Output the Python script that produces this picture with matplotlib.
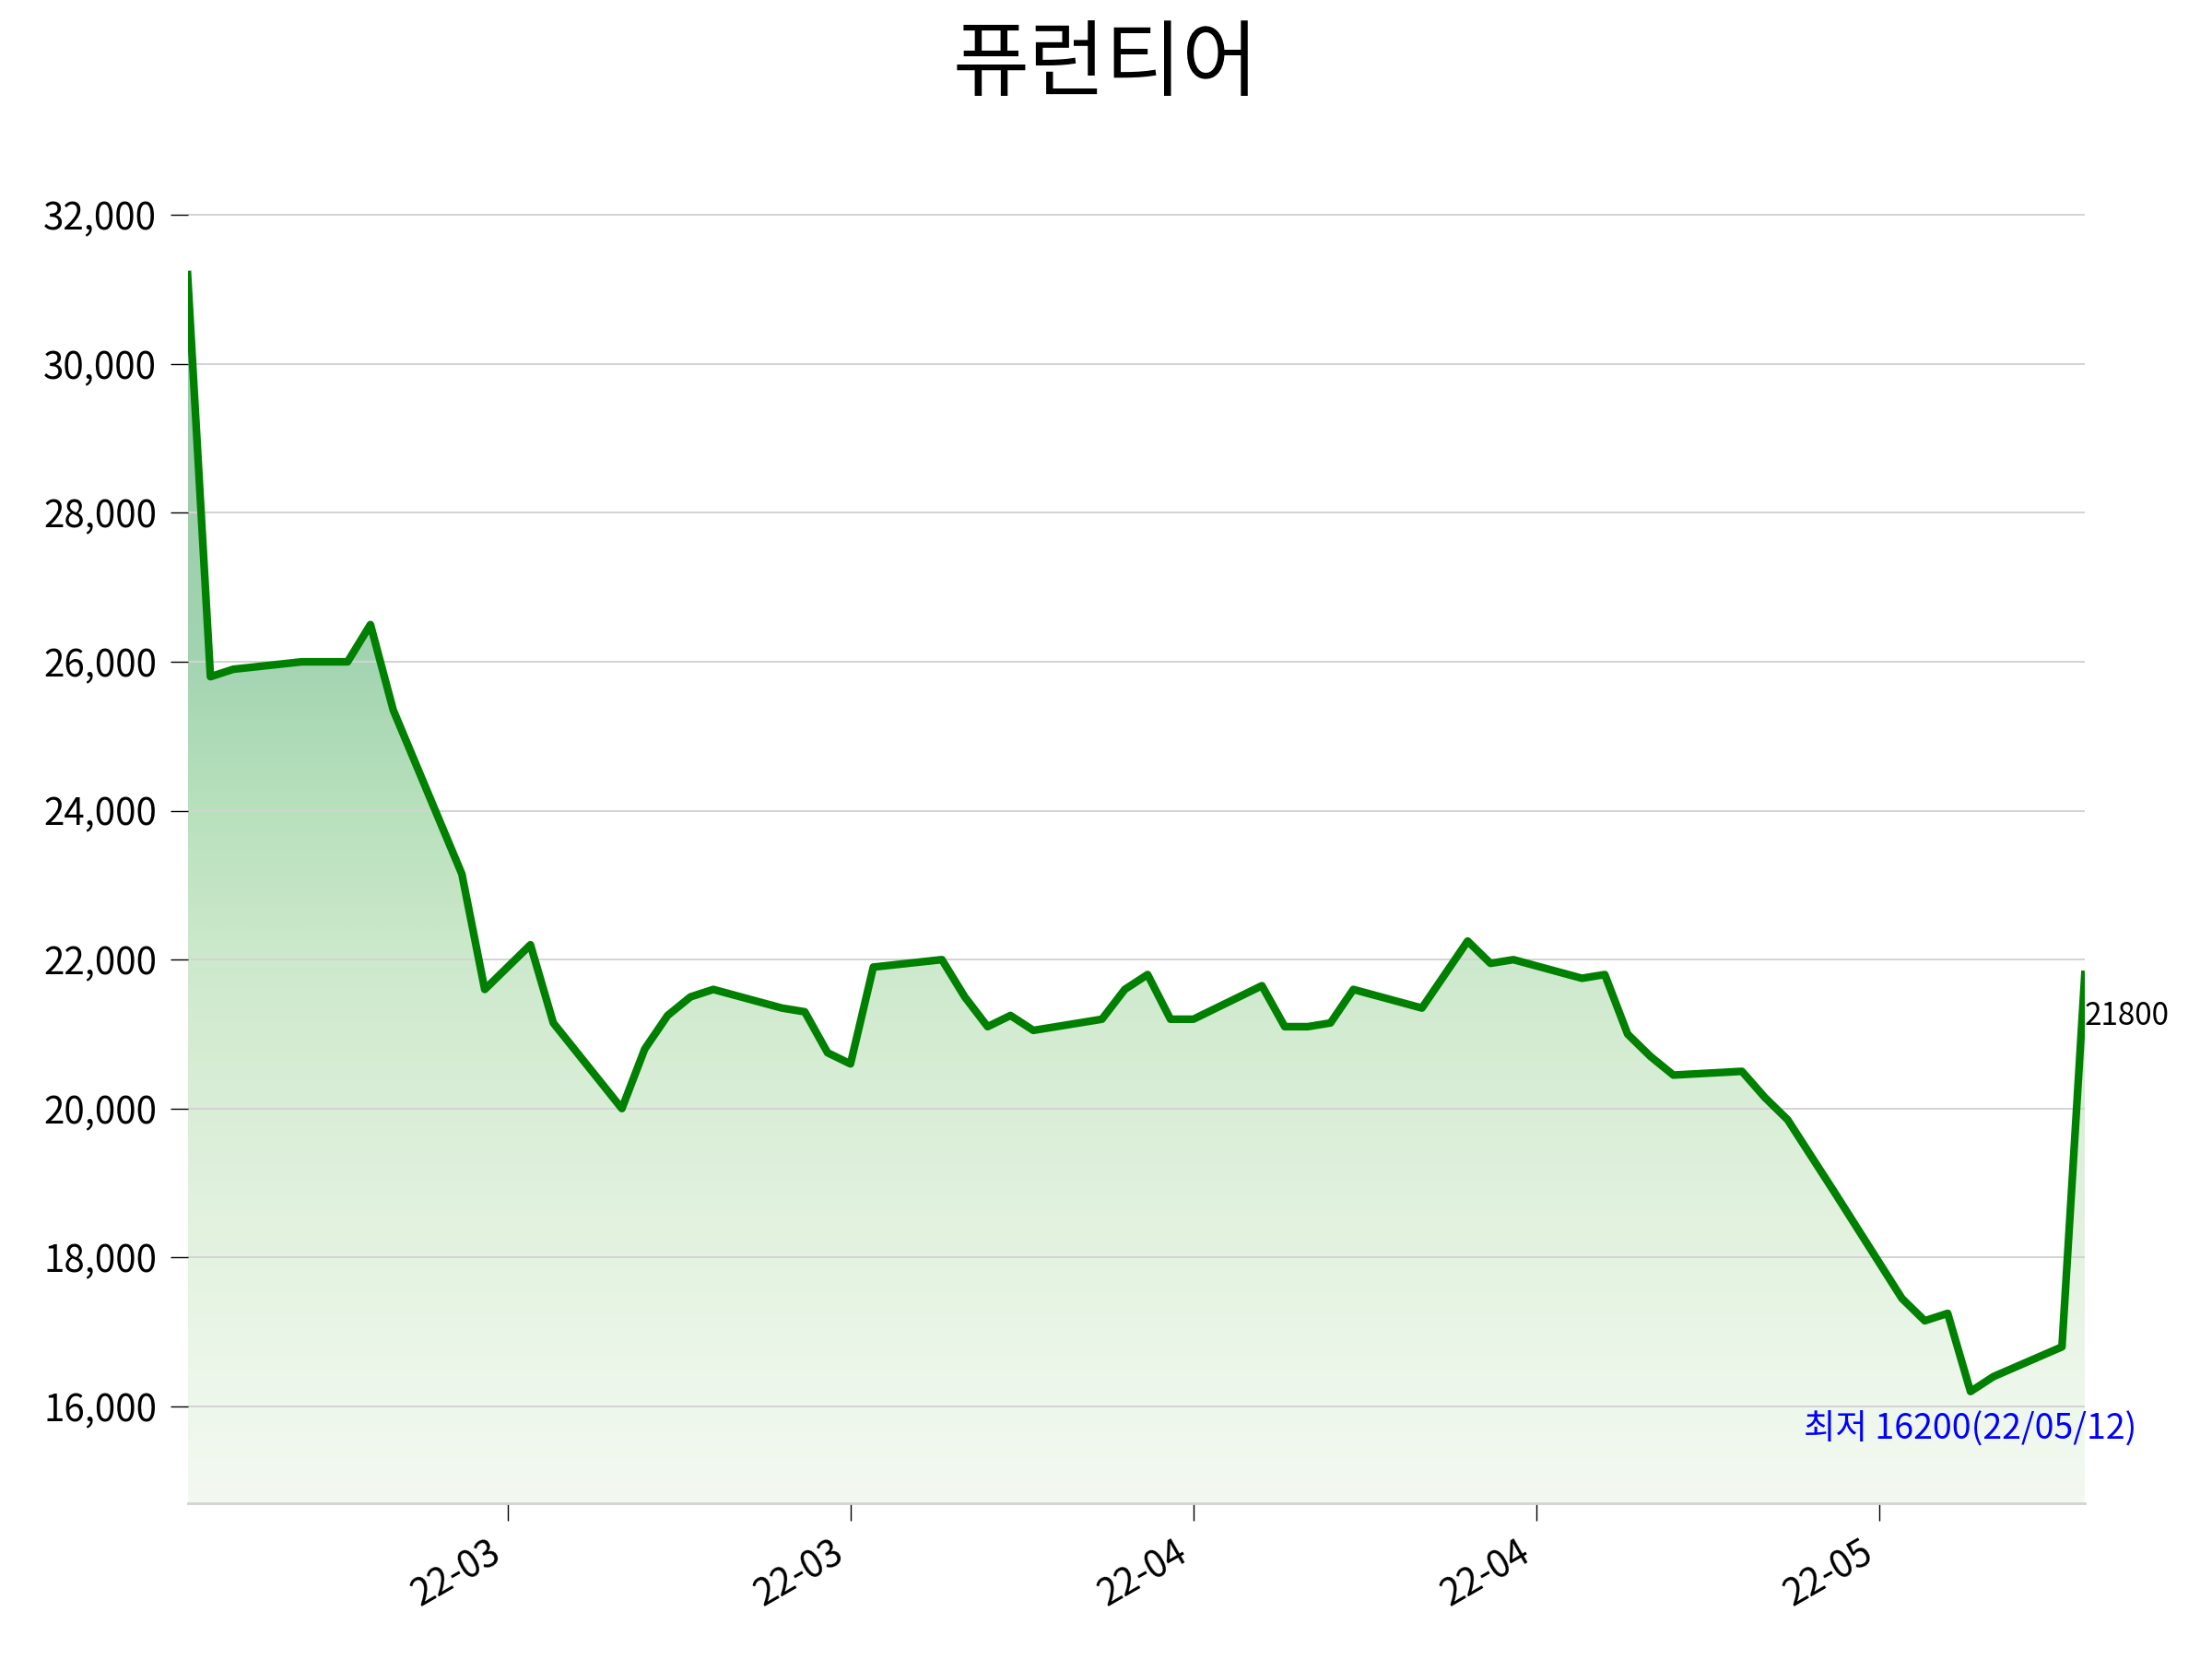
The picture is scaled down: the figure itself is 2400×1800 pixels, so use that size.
import matplotlib
matplotlib.use("Agg")
import matplotlib.pyplot as plt
import matplotlib.dates as mdates
from matplotlib.colors import LinearSegmentedColormap
from matplotlib.ticker import FixedLocator, FuncFormatter
import numpy as np
import pandas as pd

plt.rcParams['font.family'] = ['Noto Sans CJK KR', 'DejaVu Sans']

title = "퓨런티어"
dates = ['2022-02-23', '2022-02-24', '2022-02-25', '2022-02-28', '2022-03-02', '2022-03-03',
         '2022-03-04', '2022-03-07', '2022-03-08', '2022-03-10', '2022-03-11', '2022-03-14',
         '2022-03-15', '2022-03-16', '2022-03-17', '2022-03-18', '2022-03-21', '2022-03-22',
         '2022-03-23', '2022-03-24', '2022-03-25', '2022-03-28', '2022-03-29', '2022-03-30',
         '2022-03-31', '2022-04-01', '2022-04-04', '2022-04-05', '2022-04-06', '2022-04-07',
         '2022-04-08', '2022-04-11', '2022-04-12', '2022-04-13', '2022-04-14', '2022-04-15',
         '2022-04-18', '2022-04-20', '2022-04-21', '2022-04-22', '2022-04-25', '2022-04-26',
         '2022-04-27', '2022-04-28', '2022-04-29', '2022-05-02', '2022-05-03', '2022-05-04',
         '2022-05-06', '2022-05-09', '2022-05-10', '2022-05-11', '2022-05-12', '2022-05-13',
         '2022-05-16', '2022-05-17']
prices = [31200, 25800, 25900, 26000, 26000, 26500,
          25350, 23150, 21600, 22200, 21150, 20000,
          20800, 21250, 21500, 21600, 21350, 21300,
          20750, 20600, 21900, 22000, 21500, 21100,
          21250, 21050, 21200, 21600, 21800, 21200,
          21200, 21650, 21100, 21100, 21150, 21600,
          21350, 22250, 21950, 22000, 21750, 21800,
          21000, 20700, 20450, 20500, 20150, 19850,
          18900, 17450, 17150, 17250, 16200, 16400,
          16800, 21800]
tick_dates = ['2022-03-09', '2022-03-24', '2022-04-08', '2022-04-23', '2022-05-08']
y_ticks = [16000, 18000, 20000, 22000, 24000, 26000, 28000, 30000, 32000]
low_label = "최저 16200(22/05/12)"
last_label = "21800"

x = mdates.date2num(pd.to_datetime(dates))
y = np.array(prices, dtype=float)
rng = y.max() - y.min()
ylo, yhi = y.min() - rng * 0.1, y.max() + rng * 0.1

fig = plt.figure(figsize=(12, 9), dpi=200)
ax = fig.add_axes([0.0848, 0.0939, 0.8577, 0.8079])

# gradient fill under the line
poly = ax.fill_between(x, y, ylo, facecolor='none', edgecolor='none')
cmap = LinearSegmentedColormap.from_list(
    'grad', [(0.0, '#f3f9f1'), (0.08, '#eef7ec'), (0.2, '#e4f3e1'), (0.32, '#daeed7'),
             (0.44, '#cde9cd'), (0.56, '#b9e1bc'), (0.69, '#a3d4b2'), (1.0, '#94c7a6')])
grad = np.linspace(1, 0, 256).reshape(-1, 1)
im = ax.imshow(grad, cmap=cmap, aspect='auto', extent=[x[0], x[-1], ylo, y.max()],
               origin='upper', zorder=0.3, interpolation='bicubic')
im.set_clip_path(poly.get_paths()[0], transform=ax.transData)

ax.plot(x, y, color='green', lw=3, zorder=3)

ax.set_xlim(x[0], x[-1])
ax.set_ylim(ylo, yhi)

ax.yaxis.set_major_locator(FixedLocator(y_ticks))
ax.yaxis.set_major_formatter(FuncFormatter(lambda v, p: f"{int(v):,}"))
ax.xaxis.set_major_locator(FixedLocator(mdates.date2num(pd.to_datetime(tick_dates))))
ax.xaxis.set_major_formatter(mdates.DateFormatter('%y-%m'))
for lab in ax.get_xticklabels():
    lab.set_rotation(30)
    lab.set_ha('right')

ax.set_axisbelow(True)
ax.grid(axis='y', color='#d3d3d3', lw=0.7, zorder=0.5)
for s in ['top', 'right', 'left']:
    ax.spines[s].set_visible(False)
ax.spines['bottom'].set_color('#d3d3d3')
ax.spines['bottom'].set_linewidth(1.0)
ax.tick_params(axis='both', labelsize=14.5, length=7, width=0.5, color='black', pad=5)

imin = int(np.argmin(y))
ax.annotate(low_label, (x[imin], y[imin]), xytext=(0, -8), textcoords='offset points',
            color='blue', fontsize=13.5, ha='center', va='top')
ax.annotate(last_label, (x[-1], y[-1]), xytext=(0, -10), textcoords='offset points',
            color='black', fontsize=12, ha='left', va='top')

fig.text(0.5, 0.96, title, ha='center', va='center', fontsize=32.5)

fig.savefig('out.png', dpi=200)
